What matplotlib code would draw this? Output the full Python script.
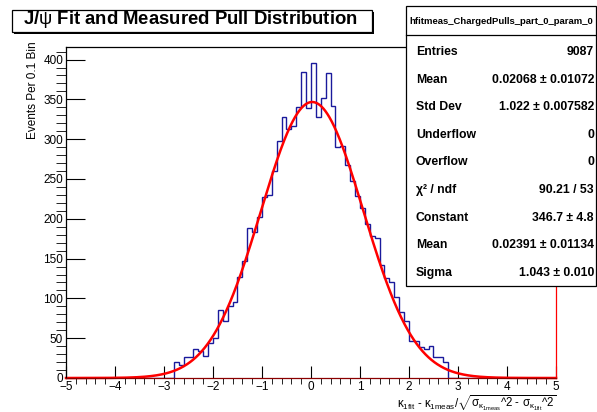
import matplotlib
matplotlib.use("Agg")
import matplotlib.pyplot as plt
import numpy as np
from matplotlib.patches import Rectangle
from matplotlib.lines import Line2D

plt.rcParams['font.family'] = ['Liberation Sans', 'DejaVu Sans']
plt.rcParams['mathtext.fontset'] = 'custom'
plt.rcParams['mathtext.rm'] = 'Liberation Sans'
plt.rcParams['mathtext.it'] = 'Liberation Sans'

# pull histogram, 0.1 wide bins on [-5, 5]; only [-2.8, 2.8) is populated
bin_edges = np.round(np.linspace(-5, 5, 101), 2)
first_bin = -2.8
counts_filled = [20, 16, 27, 26, 36, 34, 28, 44, 50,
                 86, 71, 91, 95, 127, 147, 189, 184, 202, 227,
                 230, 260, 298, 328, 313, 317, 340, 385, 339,
                 396, 328, 352, 383, 342, 290, 292, 268, 248, 229,
                 214, 194, 179, 176, 142, 126, 120, 102, 83, 72,
                 47, 47, 39, 36, 40, 26, 27, 20]

# gaussian fit result
fit_const = 346.7
fit_mean = 0.02391
fit_sigma = 1.043

stats_labels = ['Entries', 'Mean', 'Std Dev', 'Underflow', 'Overflow',
                '\u03c7\u00b2 / ndf', 'Constant', 'Mean', 'Sigma']
stats_values = ['9087', '0.02068 \u00b1 0.01072', '1.022 \u00b1 0.007582', '0', '0',
                '90.21 / 53', '346.7 \u00b1 4.8', '0.02391 \u00b1 0.01134', '1.043 \u00b1 0.010']

counts = np.zeros(100)
i0 = int(round((first_bin + 5) / 0.1))
counts[i0:i0 + len(counts_filled)] = counts_filled

W, H = 597, 412
fig = plt.figure(figsize=(W / 100, H / 100), dpi=100)
ax = fig.add_axes([66 / W, 1 - 378 / H, (556 - 66) / W, (378 - 47) / H])

ax.stairs(counts, bin_edges, color='#1a1a9c', lw=1.0)
xs = np.linspace(-5, 5, 1000)
ax.plot(xs, fit_const * np.exp(-0.5 * ((xs - fit_mean) / fit_sigma) ** 2),
        color='red', lw=1.8, clip_on=False)

ax.set_xlim(-5, 5)
ax.set_ylim(0, 396 * 1.05)
ax.set_xticks(np.arange(-5, 6, 1))
ax.set_xticks(np.arange(-5, 5.01, 0.2), minor=True)
ax.set_xticklabels(['\u22125', '\u22124', '\u22123', '\u22122', '\u22121', '0', '1', '2', '3', '4', '5'])
ax.set_yticks(np.arange(0, 401, 50))
ax.set_yticks(np.arange(0, 411, 10), minor=True)
ax.tick_params(axis='both', direction='in', labelsize=8.5, colors='black', width=0.8)
ax.tick_params(axis='x', which='major', length=9, pad=2)
ax.tick_params(axis='x', which='minor', length=4.5)
ax.tick_params(axis='y', which='major', length=14, pad=2)
ax.tick_params(axis='y', which='minor', length=7)
for s in ax.spines.values():
    s.set_linewidth(0.9)
ax.spines['right'].set_color('red')
ax.spines['bottom'].set_color('#8b0000')

fig.text(33 / W, 1 - 41 / H, 'Events Per 0.1 Bin', fontsize=8.5, rotation=90,
         ha='center', va='top')
fig.text(556 / W, 1 - 407.5 / H,
         r'$\kappa_{1fit}$ - $\kappa_{1meas}$/$\sqrt{\sigma_{\kappa_{1meas}}\text{^2 - }\sigma_{\kappa_{1fit}}\text{^2}}$',
         fontsize=8.3, ha='right', va='baseline')

# title box with shadow
tx0, tx1, ty0, ty1 = 12 / W, 372 / W, 1 - 32 / H, 1 - 10 / H
fig.patches.append(Rectangle((tx0 + 2 / W, ty0 - 2 / H), tx1 - tx0, ty1 - ty0,
                             transform=fig.transFigure, facecolor='black', edgecolor='none'))
fig.patches.append(Rectangle((tx0, ty0), tx1 - tx0, ty1 - ty0, transform=fig.transFigure,
                             facecolor='white', edgecolor='black', lw=0.9))
fig.text((tx0 + tx1) / 2 - 2 / W, (ty0 + ty1) / 2 + 1 / H, r'J/$\psi$ Fit and Measured Pull Distribution',
         fontsize=13.3, fontweight='bold', ha='center', va='center')

# stats box
sx0, sx1, sy0, sy1 = 406 / W, 596 / W, 1 - 286 / H, 1 - 6 / H
fig.patches.append(Rectangle((sx0, sy0), sx1 - sx0, sy1 - sy0, transform=fig.transFigure,
                             facecolor='white', edgecolor='black', lw=0.9))
fig.lines.append(Line2D([sx0, sx1], [1 - 35 / H, 1 - 35 / H], transform=fig.transFigure,
                        color='black', lw=0.9))
fig.text((sx0 + sx1) / 2, 1 - 24.5 / H, 'hfitmeas_ChargedPulls_part_0_param_0',
         fontsize=6.8, fontweight='bold', ha='center', va='baseline')
for k, (lab, val) in enumerate(zip(stats_labels, stats_values)):
    yy = 1 - (55 + 27.6 * k) / H
    fig.text(416 / W, yy, lab, fontsize=8.8, fontweight='bold', ha='left', va='baseline')
    fig.text(594 / W, yy, val, fontsize=8.8, fontweight='bold', ha='right', va='baseline')

fig.savefig('out.png', dpi=100)
